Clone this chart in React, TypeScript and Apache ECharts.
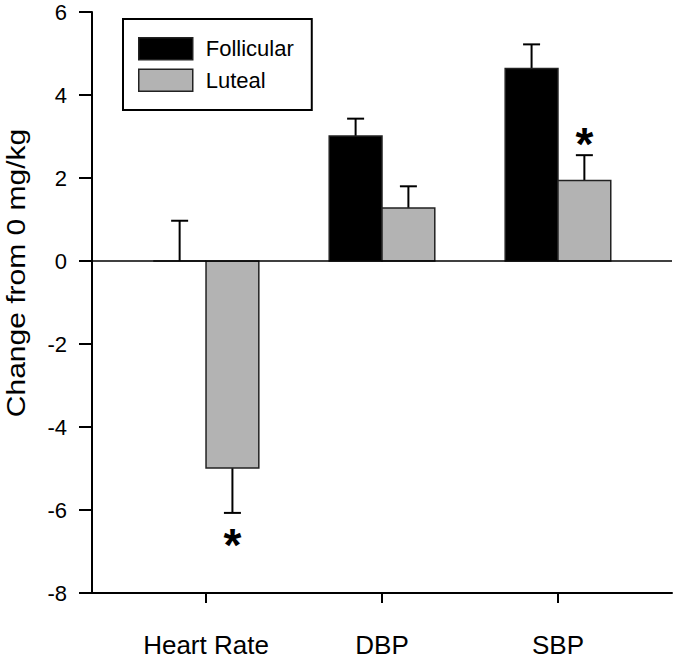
import React, { useEffect, useRef } from "react";
import * as echarts from "echarts";

const categories = ["Heart Rate", "DBP", "SBP"];
const follicularMean = [0, 3.01, 4.64];
const follicularSem = [0.97, 0.42, 0.58];
const follicularSig = [0, 0, 0];
const lutealMean = [-4.99, 1.28, 1.94];
const lutealSem = [1.08, 0.52, 0.61];
const lutealSig = [1, 0, 1];
const yMin = -8;
const yMax = 6;
const yStep = 2;
const yTitle = "Change from 0 mg/kg";

const FONT = "'Liberation Sans', Arial, sans-serif";
const BAR_W = 0.3; // in category units

function makeRender(side: number, fill: string) {
  return (params: any, api: any) => {
    const ci = api.value(0);
    const mean = api.value(1);
    const sem = api.value(2);
    const sig = api.value(3);
    const x0 = side === 0 ? ci - BAR_W : ci;
    const x1 = side === 0 ? ci : ci + BAR_W;
    const c = side === 0 ? ci - BAR_W / 2 : ci + BAR_W / 2;
    const pTop = api.coord([x0, mean]);
    const pBase = api.coord([x1, 0]);
    const dir = mean >= 0 ? 1 : -1;
    const pStart = api.coord([c, mean]);
    const pEnd = api.coord([c, mean + dir * sem]);
    const children: any[] = [];
    children.push({
      type: "line",
      shape: { x1: pStart[0], y1: pStart[1], x2: pEnd[0], y2: pEnd[1] },
      style: { stroke: "#000", lineWidth: 2 },
    });
    children.push({
      type: "line",
      shape: { x1: pEnd[0] - 8.5, y1: pEnd[1], x2: pEnd[0] + 8.5, y2: pEnd[1] },
      style: { stroke: "#000", lineWidth: 2 },
    });
    children.push({
      type: "rect",
      shape: {
        x: pTop[0],
        y: Math.min(pTop[1], pBase[1]),
        width: pBase[0] - pTop[0],
        height: Math.abs(pBase[1] - pTop[1]),
      },
      style: { fill, stroke: "#222", lineWidth: 1.5 },
    });
    if (sig) {
      children.push({
        type: "text",
        x: pEnd[0],
        y: pEnd[1] + (dir > 0 ? -11 : 32),
        style: {
          text: "*",
          fontSize: 46,
          fontWeight: "bold",
          fontFamily: FONT,
          fill: "#000",
          align: "center",
          verticalAlign: "middle",
        },
      });
    }
    return { type: "group", children };
  };
}

export default function App() {
  const ref = useRef<HTMLDivElement>(null);
  useEffect(() => {
    if (!ref.current) return;
    const chart = echarts.init(ref.current, null, { renderer: "svg" });
    const folData = categories.map((_, i) => [i, follicularMean[i], follicularSem[i], follicularSig[i]]);
    const lutData = categories.map((_, i) => [i, lutealMean[i], lutealSem[i], lutealSig[i]]);
    const catIdx = categories.map((_, i) => i);
    chart.setOption({
      animation: false,
      backgroundColor: "#fff",
      grid: { left: 92, right: 5, top: 12, bottom: 70, containLabel: false },
      legend: {
        orient: "vertical",
        left: 123,
        top: 19,
        padding: [18, 18, 18, 15],
        borderColor: "#000",
        borderWidth: 2,
        backgroundColor: "#fff",
        itemWidth: 54,
        itemHeight: 22,
        itemGap: 8,
        selectedMode: false,
        textStyle: { fontSize: 22, fontFamily: FONT, color: "#000", padding: [0, 0, 0, 8] },
        data: [
          { name: "Follicular", icon: "rect", itemStyle: { color: "#000", borderColor: "#222", borderWidth: 1.5 } },
          { name: "Luteal", icon: "rect", itemStyle: { color: "#b3b3b3", borderColor: "#222", borderWidth: 1.5 } },
        ],
      },
      xAxis: {
        type: "value",
        min: -0.648,
        max: 2.648,
        splitLine: { show: false },
        axisLine: { show: true, onZero: false, lineStyle: { color: "#000", width: 2 } },
        axisTick: { show: true, length: 10, customValues: catIdx, lineStyle: { color: "#000", width: 2 } },
        axisLabel: {
          customValues: catIdx,
          margin: 39,
          fontSize: 26,
          fontFamily: FONT,
          color: "#000",
          formatter: (v: number) => categories[Math.round(v)] ?? "",
        },
      },
      yAxis: {
        type: "value",
        min: yMin,
        max: yMax,
        interval: yStep,
        splitLine: { show: false },
        axisLine: { show: true, onZero: false, lineStyle: { color: "#000", width: 2 } },
        axisTick: { show: true, length: 13, lineStyle: { color: "#000", width: 2 } },
        axisLabel: { margin: 25, fontSize: 22, fontFamily: FONT, color: "#000" },
      },
      graphic: [
        {
          type: "text",
          x: 16,
          y: 273,
          rotation: Math.PI / 2,
          scaleX: 1.2,
          style: {
            text: yTitle,
            fontSize: 25,
            fontFamily: FONT,
            fill: "#000",
            align: "center",
            verticalAlign: "middle",
          },
        },
      ],
      series: [
        {
          name: "Follicular",
          type: "custom",
          itemStyle: { color: "#000" },
          renderItem: makeRender(0, "#000"),
          data: folData,
          z: 3,
          markLine: {
            silent: true,
            symbol: "none",
            label: { show: false },
            lineStyle: { color: "#000", width: 1.5, type: "solid" },
            data: [{ yAxis: 0 }],
          },
        },
        {
          name: "Luteal",
          type: "custom",
          itemStyle: { color: "#b3b3b3" },
          renderItem: makeRender(1, "#b3b3b3"),
          data: lutData,
          z: 3,
        },
      ],
    });
    return () => chart.dispose();
  }, []);
  return <div ref={ref} style={{ position: "fixed", left: 0, top: 0, width: 677, height: 663 }} />;
}
